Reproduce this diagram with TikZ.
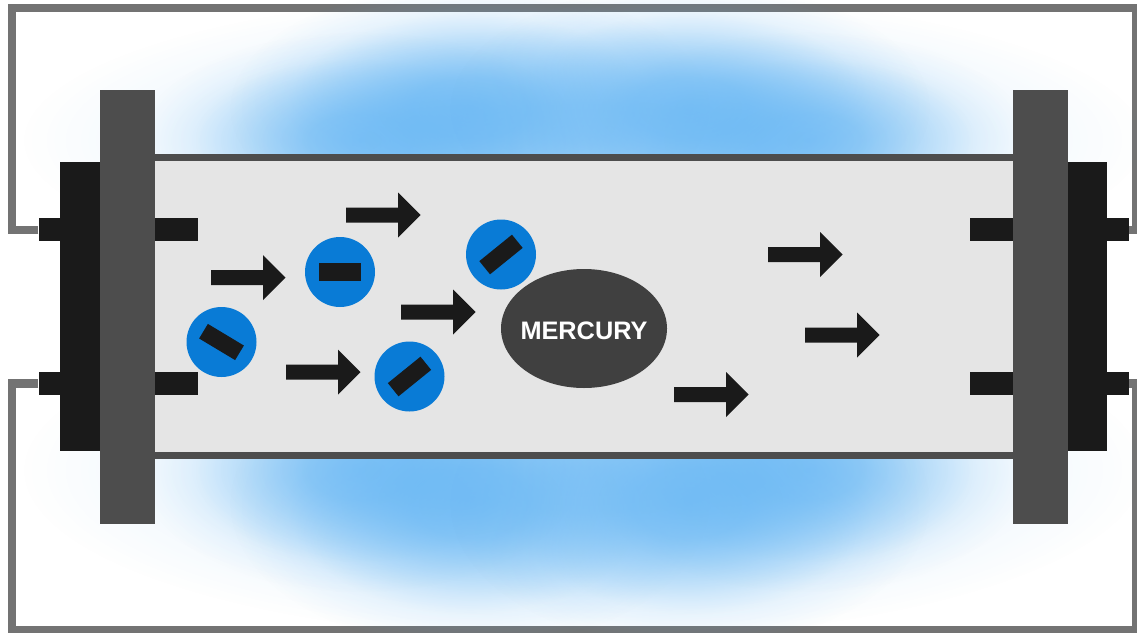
\documentclass[tikz,border=0pt]{standalone}
\usepackage{fontspec}
\setmainfont{Liberation Sans}
\usetikzlibrary{fadings,shapes.geometric}

% Soft radial falloff used for the light around the lamp tube
\pgfdeclareradialshading{softglowshade}{\pgfpointorigin}{%
  color(0bp)=(white);
  color(6bp)=(white!88!black);
  color(12.5bp)=(white!50!black);
  color(19bp)=(white!14!black);
  color(25bp)=(black);
  color(50bp)=(black)}
\pgfdeclarefading{softglow}{\pgfuseshading{softglowshade}}

\definecolor{glowblue}{HTML}{65B6F4}
\definecolor{wiregray}{HTML}{737373}
\definecolor{plategray}{HTML}{4D4D4D}
\definecolor{blockblack}{HTML}{1A1A1A}
\definecolor{tubefill}{HTML}{E5E5E5}
\definecolor{electronblue}{HTML}{097BD6}
\definecolor{mercurygray}{HTML}{404040}

\tikzset{
  wire/.style={draw=wiregray,line width=8.5pt,miter limit=10},
  glow/.style={fill=glowblue,path fading=softglow,fit fading=true},
  plate/.style={fill=plategray,draw=none,inner sep=0pt,minimum width=55pt,minimum height=434pt},
  block/.style={fill=blockblack,draw=none,inner sep=0pt,minimum width=41pt,minimum height=289pt},
  outertab/.style={fill=blockblack,draw=none,inner sep=0pt,minimum width=22pt,minimum height=23pt},
  innertab/.style={fill=blockblack,draw=none,inner sep=0pt,minimum width=43pt,minimum height=23pt},
  tube/.style={fill=tubefill,draw=none,inner sep=0pt,minimum width=860pt,minimum height=304pt},
  tubeedge/.style={fill=plategray,draw=none,inner sep=0pt,minimum width=860pt,minimum height=7pt},
  electron/.style={circle,fill=electronblue,draw=none,inner sep=0pt,minimum size=70pt},
  chargebar/.style={fill=blockblack,draw=none,inner sep=0pt,minimum width=42pt,minimum height=17pt},
  flowarrow/.pic={\fill[blockblack] (0,-7.5) -- (52,-7.5) -- (52,-22.5) -- (74.5,0) -- (52,22.5) -- (52,7.5) -- (0,7.5) -- cycle;}
}

\begin{document}
\begin{tikzpicture}[x=1pt,y=-1pt]
  \useasboundingbox (0,0) rectangle (1137,632);
  \fill[white] (0,0) rectangle (1137,632);

  % Electrodes and end pieces come first as named nodes, so the wires can end on them
  \node[outertab] (tabTL) at (49.5,229.75) {};
  \node[outertab] (tabBL) at (49.5,383.5) {};
  \node[outertab] (tabTR) at (1117.5,229.75) {};
  \node[outertab] (tabBR) at (1117.5,383.5) {};
  \coordinate (cornerTL) at (12,8);
  \coordinate (cornerTR) at (1136,8);
  \coordinate (cornerBL) at (12,630);
  \coordinate (cornerBR) at (1136,630);

  % External circuit
  \draw[wire] (tabTL.west) -| (cornerTL) -- (cornerTR) |- (tabTR.east);
  \draw[wire] (tabBL.west) -| (cornerBL) -- (cornerBR) |- (tabBR.east);

  % Light radiating from the tube, above and below
  \begin{scope}
    \clip (0,0) rectangle (1137,632);
    \foreach \cy/\ry/\by/\bry in {140/150/108/125, 470/170/503/145}{
      \fill[glow,opacity=.55] (584,\cy) ellipse [x radius=560,y radius=\ry];
      \fill[glow,opacity=.7] (360,\cy) ellipse [x radius=220,y radius=\ry*0.72];
      \fill[glow,opacity=.7] (808,\cy) ellipse [x radius=220,y radius=\ry*0.72];
      \fill[glow,opacity=.75] (470,\by) ellipse [x radius=240,y radius=\bry];
      \fill[glow,opacity=.75] (690,\by) ellipse [x radius=240,y radius=\bry];
    }
  \end{scope}

  % Tube body
  \node[tube] (body) at (584,306.5) {};
  \node[tubeedge] (edgeT) at (584,157.5) {};
  \node[tubeedge] (edgeB) at (584,455) {};

  % End blocks and plates
  \node[block] (blockL) at (80.5,306.5) {};
  \node[block] (blockR) at (1086.5,306.5) {};
  \node[plate] (plateL) at (127.5,307) {};
  \node[plate] (plateR) at (1040,307) {};

  % Electrodes inside the tube
  \node[innertab] (inTL) at (176,229.75) {};
  \node[innertab] (inBL) at (176,383.5) {};
  \node[innertab] (inTR) at (991.5,229.75) {};
  \node[innertab] (inBR) at (991.5,383.5) {};

  % Electron flow
  \foreach \px/\py in {211/277.5,346/215,401/312,286/372,674/394.5,768/254.5,805/335}
    \pic at (\px,\py) {flowarrow};

  % Electrons
  \node[electron] (e1) at (221.5,342) {};
  \node[chargebar,rotate=-31] (b1) at (e1) {};
  \node[electron] (e2) at (340,272) {};
  \node[chargebar,minimum height=18pt] (b2) at (e2) {};
  \node[electron] (e3) at (501,254.5) {};
  \node[chargebar,rotate=39] (b3) at (e3) {};
  \node[electron] (e4) at (409.5,376.5) {};
  \node[chargebar,rotate=39] (b4) at (e4) {};

  % Mercury atom
  \node[ellipse,fill=mercurygray,draw=none,inner sep=0pt,minimum width=166pt,minimum height=119pt,
        text=white,font=\bfseries\fontsize{25.3}{30}\selectfont] (mercury) at (584,328.5)
        {\raisebox{-11pt}[0pt][0pt]{\makebox[0pt]{MERCURY}}};
\end{tikzpicture}
\end{document}
